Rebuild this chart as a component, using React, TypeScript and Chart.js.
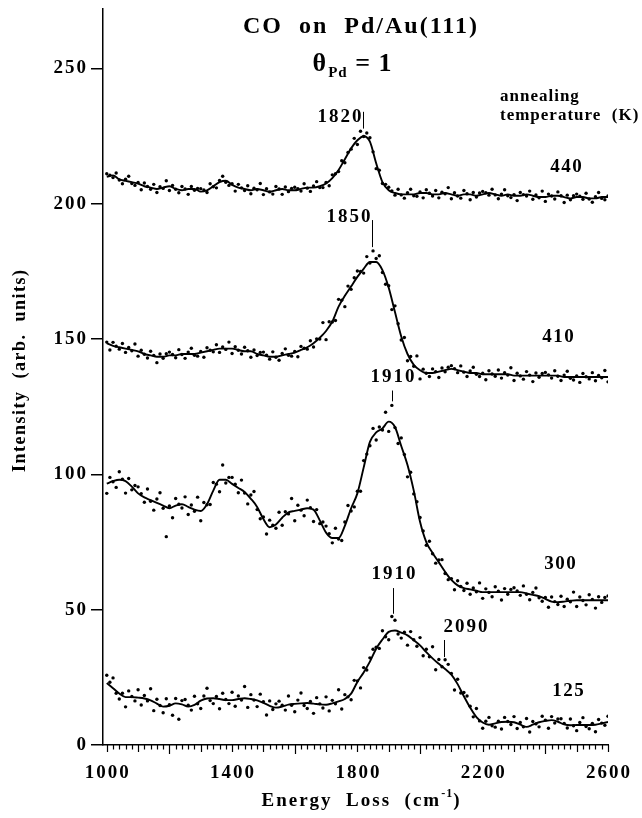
import React, { useEffect, useRef } from 'react';
import { Chart, registerables } from 'chart.js';

Chart.register(...registerables);

// ---------- data ----------
const X_LINE = [
  1000, 1020, 1040, 1060, 1080, 1100, 1120, 1140, 1160, 1180,
  1200, 1220, 1240, 1260, 1280, 1300, 1320, 1340, 1360, 1380,
  1400, 1420, 1440, 1460, 1480, 1500, 1520, 1540, 1560, 1580,
  1600, 1620, 1640, 1660, 1680, 1700, 1720, 1740, 1760, 1780,
  1800, 1820, 1840, 1860, 1880, 1900, 1920, 1940, 1960, 1980,
  2000, 2020, 2040, 2060, 2080, 2100, 2120, 2140, 2160, 2180,
  2200, 2220, 2240, 2260, 2280, 2300, 2320, 2340, 2360, 2380,
  2400, 2420, 2440, 2460, 2480, 2500, 2520, 2540, 2560, 2580,
  2600,
];

const LINE_440 = [
  210, 210.5, 209, 208.5, 208, 207.5, 206.5, 206, 205.5, 206,
  206.5, 205.5, 205, 205.5, 205.5, 204.5, 205, 206.5, 208, 208.5,
  207, 206, 205.5, 205, 205.5, 205, 204.5, 205, 205.5, 205,
  205, 205.5, 206, 206, 206.5, 207.5, 209.5, 212.5, 216.5, 220.5,
  223.5, 225, 223, 215, 208, 205, 204, 203.5, 203.5, 203.5,
  204, 204, 203.5, 203.5, 204, 203.5, 203, 203.5, 203.5, 203,
  203.5, 204, 203.5, 203, 203.5, 203, 203, 203.5, 203, 202.5,
  202.5, 203, 203, 202.5, 202, 202.5, 202.5, 202, 202, 202.5,
  202.5,
];

const LINE_410 = [
  148.5, 147.5, 147, 146.5, 146, 145.5, 144.5, 144, 143.5, 143.5,
  144, 144, 144.5, 144.5, 144.5, 145, 145.5, 146, 146.5, 146.5,
  146.5, 146, 145.5, 145.5, 144.5, 144, 143.5, 143.5, 144, 144.5,
  145, 146, 147, 148.5, 150.5, 153, 156.5, 162, 166, 169.5,
  173, 176, 178.5, 178.5, 175.5, 169, 160, 151, 144.5, 140.5,
  138.5, 137.5, 137.5, 138, 138.5, 139, 138.5, 138, 137.5, 137.5,
  137, 137, 137, 137, 137, 136.5, 136.5, 136.5, 136.5, 136.5,
  136.5, 136.5, 136.5, 136, 136, 136, 136, 136, 136, 136,
  136,
];

const LINE_300 = [
  96.6, 97.5, 98, 97.5, 95.5, 93, 91.5, 90.5, 89.5, 88.5,
  87.5, 88.5, 89, 88, 87, 86.5, 89, 94, 98, 98,
  96.5, 95, 93.5, 91, 88, 83.5, 80.5, 81.5, 84, 86,
  86.5, 87, 87.5, 87, 83, 78.5, 76.5, 76.5, 81, 87.5,
  93, 102.5, 112, 115.5, 117, 119.5, 117.5, 110.5, 103.5, 94,
  82.5, 75, 71, 67.5, 64, 61, 59, 58, 57.5, 57,
  56.5, 56.5, 56.5, 56.5, 56.5, 56.5, 56.5, 56, 55.5, 55,
  54, 53, 52.8, 53, 53.3, 53.5, 53.5, 53.5, 53.5, 53.5,
  53.5,
];

const LINE_125 = [
  22.9, 21, 19, 17.7, 17.7, 17.5, 17.2, 16.5, 15.3, 14.2,
  14.5, 15.4, 15, 14.2, 14.8, 16.4, 17.2, 17.3, 17, 16.6,
  16.6, 17, 17.3, 17, 16.5, 15.6, 14.5, 13.8, 14.2, 14.9,
  15.2, 15.4, 15.5, 15.3, 15, 14.9, 15.4, 16.1, 17, 19,
  23.3, 26.8, 30.8, 35.6, 39, 41.8, 42.3, 41.5, 40.5, 38.7,
  36.8, 34.3, 32, 30, 28.1, 26, 22.5, 18, 13.8, 10.3,
  8.3, 7.5, 8, 8.5, 8.6, 8.4, 7.5, 6.7, 7.5, 8.4,
  8.9, 9.2, 8.6, 7.6, 7.3, 7.4, 7.4, 7.4, 7.5, 8,
  8.5,
];

const X_DOTS = [
  1000, 1010, 1020, 1030, 1040, 1050, 1060, 1070, 1080, 1090,
  1100, 1110, 1120, 1130, 1140, 1150, 1160, 1170, 1180, 1190,
  1200, 1210, 1220, 1230, 1240, 1250, 1260, 1270, 1280, 1290,
  1300, 1310, 1320, 1330, 1340, 1350, 1360, 1370, 1380, 1390,
  1400, 1410, 1420, 1430, 1440, 1450, 1460, 1470, 1480, 1490,
  1500, 1510, 1520, 1530, 1540, 1550, 1560, 1570, 1580, 1590,
  1600, 1610, 1620, 1630, 1640, 1650, 1660, 1670, 1680, 1690,
  1700, 1710, 1720, 1730, 1740, 1750, 1760, 1770, 1780, 1790,
  1800, 1810, 1820, 1830, 1840, 1850, 1860, 1870, 1880, 1890,
  1900, 1910, 1920, 1930, 1940, 1950, 1960, 1970, 1980, 1990,
  2000, 2010, 2020, 2030, 2040, 2050, 2060, 2070, 2080, 2090,
  2100, 2110, 2120, 2130, 2140, 2150, 2160, 2170, 2180, 2190,
  2200, 2210, 2220, 2230, 2240, 2250, 2260, 2270, 2280, 2290,
  2300, 2310, 2320, 2330, 2340, 2350, 2360, 2370, 2380, 2390,
  2400, 2410, 2420, 2430, 2440, 2450, 2460, 2470, 2480, 2490,
  2500, 2510, 2520, 2530, 2540, 2550, 2560, 2570, 2580, 2590,
  2600,
];

const DOTS_440 = [
  211.1, 210.6, 209.7, 211.4, 208.8, 207.4, 209.1, 210.2, 207.5, 206.8,
  207.9, 205.2, 207.7, 206.4, 205.4, 207.2, 204.2, 206.3, 205.7, 208.5,
  204.9, 206.8, 205.4, 204.1, 206.4, 205.5, 203.5, 206.4, 205, 205.7,
  205.6, 205.1, 204.2, 207.4, 206.3, 205.9, 208.6, 210.2, 208, 206.8,
  207.4, 204.7, 207.2, 205.9, 204.9, 206.7, 203.7, 205.8, 205.2, 207.5,
  203.4, 205.6, 204.4, 203.6, 206.4, 205.5, 203.5, 206.2, 204.5, 205.7,
  206.1, 205.6, 204.7, 207.4, 205.8, 204.6, 206.6, 208.2, 206, 206,
  207.9, 206.7, 210.7, 211.1, 211.9, 215.9, 215.2, 219, 220.2, 224.2,
  221.9, 226.8, 224.9, 226.2, 224.4, 219.2, 213, 212.4, 207.5, 207.2,
  206.1, 204.8, 203.2, 205.4, 203.3, 202.1, 204.1, 205.4, 203, 202.8,
  204.4, 202.2, 205.2, 203.9, 202.9, 204.9, 202.2, 204.3, 203.7, 206,
  201.9, 204.1, 202.9, 202.1, 204.9, 203.7, 201.5, 204.2, 202.5, 204,
  204.6, 204.1, 203.2, 205.4, 203.3, 201.9, 203.6, 205.2, 203, 202.3,
  203.4, 201.2, 204.2, 203.4, 202.9, 204.7, 201.7, 203.3, 202.2, 204.7,
  200.9, 203.6, 202.9, 201.8, 204.4, 203, 200.5, 203.2, 201.5, 203,
  203.6, 202.8, 201.7, 203.9, 201.8, 200.6, 202.6, 204.2, 202, 201.5,
  202.9,
];

const DOTS_410 = [
  148.9, 146, 148.8, 147.4, 146.3, 148.4, 145.1, 146.9, 145.7, 148.2,
  143.7, 145.9, 144.4, 143, 145.5, 144, 141.3, 144.5, 142.9, 144.6,
  145.2, 144.3, 143.1, 146.1, 144.3, 142.9, 145.2, 146.6, 144, 143.7,
  145.4, 143.3, 146.8, 145.9, 145.3, 147.9, 145.1, 147.1, 146.2, 148.9,
  144.7, 147.2, 145.9, 144.5, 147, 145.7, 143.3, 146, 143.9, 145.1,
  145.2, 144.1, 142.6, 145.3, 143.3, 142.2, 144.7, 146.4, 144, 143.7,
  145.4, 143.5, 147.3, 146.6, 146.3, 149.4, 147.1, 150.1, 150, 156.1,
  149.8, 156.4, 156.3, 156.9, 164.7, 164.4, 162, 169.6, 168.4, 172.7,
  175.2, 175, 174.4, 180.5, 178.1, 182.6, 179.8, 180.8, 174.6, 170.3,
  169.7, 160.9, 162.3, 155.7, 149.7, 150.6, 142, 143.6, 140, 143.8,
  135.3, 138.9, 137.4, 136.2, 139, 138, 135.8, 139.3, 137.9, 139.6,
  140.2, 139.1, 137.6, 140.1, 137.8, 136.2, 138.2, 139.6, 137, 136.2,
  137.4, 135, 138.3, 137.1, 136.3, 138.6, 135.6, 137.6, 136.7, 139.4,
  134.7, 137.4, 136.4, 135.2, 138, 136.7, 134.3, 137.5, 135.9, 137.3,
  137.7, 136.8, 135.6, 138.3, 136.3, 134.7, 136.7, 138.1, 135.5, 134.9,
  136.4, 134, 137.3, 136.1, 135.3, 137.6, 134.6, 136.6, 135.7, 138.4,
  134.2,
];

const DOTS_300 = [
  93, 98.9, 97.3, 95.2, 101, 98.2, 93.1, 98.5, 94.3, 95.9,
  95.4, 92.9, 89.7, 94.6, 90.1, 86.8, 90.9, 93.2, 87.5, 77,
  88.3, 84, 91.1, 89, 87.6, 91.7, 85.2, 88.7, 86.4, 91.6,
  82.9, 89.6, 88.8, 88.9, 97, 96.4, 93.6, 103.5, 96.8, 98.9,
  98.9, 96.4, 93.2, 97.9, 93.1, 89.1, 92.4, 93.7, 87, 83.6,
  84.3, 78, 83.1, 81.2, 80.1, 86, 81.2, 86.2, 85.4, 91.1,
  82.9, 88.6, 86.8, 84.7, 90.5, 87.7, 82.6, 87, 81.8, 82.4,
  80.9, 78.1, 74.7, 80.1, 76.1, 75.6, 82.4, 88.5, 86.5, 88,
  93.8, 93.8, 105.1, 107.5, 110.6, 117, 112.7, 117.5, 116.4, 123,
  115.9, 125.5, 117.3, 111.4, 113.5, 107.4, 99.1, 100.8, 92.8, 89.9,
  84.1, 79.1, 73.8, 75.3, 70.7, 67.2, 68.4, 68.5, 63.4, 61.1,
  61.5, 57.4, 60.7, 58.6, 57.1, 59.8, 55.7, 58, 56.6, 59.9,
  54.2, 57.7, 56.4, 54.8, 58.5, 56.8, 53.6, 57.8, 55.7, 57.5,
  58.1, 56.9, 55.3, 58.8, 55.7, 53.7, 56.4, 58, 54.4, 53.1,
  54.5, 50.9, 54.7, 53, 51.9, 55, 51.2, 53.9, 52.9, 56.5,
  51.2, 54.7, 53.4, 51.8, 55.5, 53.8, 50.6, 54.8, 52.7, 54.5,
  55.1,
];

const DOTS_125 = [
  25.8, 23.2, 24.8, 19.1, 17, 19.1, 14.1, 20, 17.9, 16.3,
  20.4, 14.8, 18.3, 16.3, 20.8, 12.7, 16.9, 14.6, 11.9, 17.1,
  14.9, 11, 17.2, 9.5, 16.4, 16.8, 14.7, 12.9, 18, 15.2,
  13.5, 18.1, 21, 16.4, 15.3, 17.9, 13.4, 19.1, 16.8, 15.3,
  19.5, 14.3, 18.1, 16.6, 21.6, 13.9, 18.6, 16.6, 14.2, 18.8,
  16, 11.1, 16.3, 13.1, 15.2, 16.2, 14.7, 12.9, 18.1, 14.7,
  12.3, 16.6, 19.2, 14.6, 13.5, 16.1, 11.7, 17.5, 15.2, 13.7,
  17.8, 12.6, 16.5, 15.2, 20.4, 13.3, 18.6, 17.8, 16.7, 23.9,
  23.7, 21.1, 28.6, 27.7, 32.2, 35.4, 36.1, 35.7, 42.2, 40,
  38.9, 47.5, 46.1, 41, 39.5, 41.7, 36.9, 41.9, 38.9, 36.5,
  39.7, 33, 35.4, 32.6, 36.3, 27.8, 31.6, 28.9, 31.5, 29.8,
  26.4, 20.3, 24.3, 19.2, 19.4, 18.1, 14.3, 10.4, 13.5, 8.9,
  6.2, 8.8, 10.2, 7.1, 6.6, 8.8, 5.9, 10.2, 8.7, 7.6,
  10.5, 6.1, 8.3, 6.7, 9.8, 4.8, 8.7, 7.8, 6.7, 10.6,
  9.2, 6.2, 10.5, 8.1, 9.6, 9.7, 8, 6.3, 9.6, 7.1,
  5.3, 8.3, 10.1, 6.8, 6, 8, 4.9, 9.4, 8.1, 7.3,
  10.6,
];

const X_TICKS = [1000, 1400, 1800, 2200, 2600];
const Y_TICKS = [0, 50, 100, 150, 200, 250];

const CURVE_LABELS = ['440', '410', '300', '125'];
const CURVE_LABEL_X = [2466, 2440, 2447, 2472];
const CURVE_LABEL_Y = [213.5, 150.6, 67, 20];

const PEAK_TEXT = ['1820', '1850', '1910', '1910', '2090'];
const PEAK_X = [1818, 1848, 1910, 1915, 2075];
const PEAK_TEXT_Y = [232, 195, 136, 63, 43.6];
const PEAK_LINE_TOP = [234, 194, 131, 58, 38.8];
const PEAK_LINE_BOTTOM = [227.8, 184, 127, 48.5, 32.5];
const PEAK_ALIGN = ['right', 'right', 'center', 'center', 'left'];

// ---------- drawing helpers ----------
const FONT = '"Liberation Serif", "Times New Roman", serif';

function txt(
  ctx: CanvasRenderingContext2D,
  s: string,
  x: number,
  y: number,
  size: number,
  align: CanvasTextAlign,
  spacing: number,
  baseline: CanvasTextBaseline = 'middle'
) {
  ctx.save();
  ctx.font = `bold ${size}px ${FONT}`;
  (ctx as any).letterSpacing = `${spacing}px`;
  ctx.textAlign = align;
  ctx.textBaseline = baseline;
  ctx.fillStyle = '#000';
  let dx = 0;
  if (align === 'right') dx = spacing;
  else if (align === 'center') dx = spacing / 2;
  ctx.fillText(s, x + dx, y);
  ctx.restore();
}

function measure(ctx: CanvasRenderingContext2D, s: string, size: number, spacing: number) {
  ctx.save();
  ctx.font = `bold ${size}px ${FONT}`;
  (ctx as any).letterSpacing = `${spacing}px`;
  const w = ctx.measureText(s).width;
  ctx.restore();
  return w;
}

const annotations = {
  id: 'annotations',
  beforeDraw(chart: any) {
    const ctx = chart.ctx as CanvasRenderingContext2D;
    ctx.save();
    ctx.fillStyle = '#fff';
    ctx.fillRect(0, 0, chart.width, chart.height);
    ctx.restore();
  },
  afterDraw(chart: any) {
    const ctx = chart.ctx as CanvasRenderingContext2D;
    const xs = chart.scales.x;
    const ys = chart.scales.y;
    const area = chart.chartArea;

    // x minor / major ticks
    ctx.save();
    ctx.strokeStyle = '#000';
    ctx.lineWidth = 1.2;
    for (let v = X_TICKS[0]; v <= X_TICKS[X_TICKS.length - 1]; v += 20) {
      const px = Math.round(xs.getPixelForValue(v)) + 0.5;
      const len = v % 400 === 0 ? 9 : v % 100 === 0 ? 7 : 4.5;
      ctx.beginPath();
      ctx.moveTo(px, area.bottom);
      ctx.lineTo(px, area.bottom + len);
      ctx.stroke();
    }
    ctx.restore();

    // tick labels
    X_TICKS.forEach((v) => txt(ctx, String(v), xs.getPixelForValue(v), 773, 19, 'center', 2));
    Y_TICKS.forEach((v) => txt(ctx, String(v), 86, ys.getPixelForValue(v), 19, 'right', 2));

    // axis titles
    {
      const a = 'Energy  Loss  (cm';
      const sup = '-1';
      const b = ')';
      const wa = measure(ctx, a, 19, 2);
      const ws = measure(ctx, sup, 12, 1);
      const wb = measure(ctx, b, 19, 2);
      const cx = (area.left + area.right) / 2 + 6;
      const start = cx - (wa + ws + wb) / 2;
      txt(ctx, a, start, 801, 19, 'left', 2);
      txt(ctx, sup, start + wa, 794, 12, 'left', 1);
      txt(ctx, b, start + wa + ws, 801, 19, 'left', 2);
    }
    ctx.save();
    ctx.translate(20, 472);
    ctx.rotate(-Math.PI / 2);
    txt(ctx, 'Intensity  (arb.  units)', 0, 0, 18, 'left', 1.5);
    ctx.restore();

    // title
    txt(ctx, 'CO  on  Pd/Au(111)', 360, 27, 24, 'center', 2);
    {
      const w1 = measure(ctx, '\u03B8', 26, 1);
      const w2 = measure(ctx, 'Pd', 15, 1);
      const w3 = measure(ctx, ' = 1', 26, 1);
      const start = 352 - (w1 + w2 + w3) / 2;
      txt(ctx, '\u03B8', start, 71, 26, 'left', 1, 'alphabetic');
      txt(ctx, 'Pd', start + w1 + 1, 77, 15, 'left', 1, 'alphabetic');
      txt(ctx, ' = 1', start + w1 + w2 + 1, 71, 26, 'left', 1, 'alphabetic');
    }

    // annealing temperature note
    txt(ctx, 'annealing', 500, 97, 17, 'left', 1);
    txt(ctx, 'temperature  (K)', 500, 116, 17, 'left', 1);

    // curve labels
    CURVE_LABELS.forEach((s, i) =>
      txt(ctx, s, xs.getPixelForValue(CURVE_LABEL_X[i]), ys.getPixelForValue(CURVE_LABEL_Y[i]), 19, 'center', 1.5)
    );

    // peak markers
    PEAK_TEXT.forEach((s, i) => {
      const px = Math.round(xs.getPixelForValue(PEAK_X[i])) + 0.5;
      ctx.save();
      ctx.strokeStyle = '#000';
      ctx.lineWidth = 1;
      ctx.beginPath();
      ctx.moveTo(px, ys.getPixelForValue(PEAK_LINE_TOP[i]));
      ctx.lineTo(px, ys.getPixelForValue(PEAK_LINE_BOTTOM[i]));
      ctx.stroke();
      ctx.restore();
      const align = PEAK_ALIGN[i] as CanvasTextAlign;
      const tx = align === 'right' ? px - 2 : align === 'left' ? px - 1 : px;
      txt(ctx, s, tx, ys.getPixelForValue(PEAK_TEXT_Y[i]), 19, align, 2);
    });
  },
};

const SERIES_LINES = [LINE_440, LINE_410, LINE_300, LINE_125];
const SERIES_DOTS = [DOTS_440, DOTS_410, DOTS_300, DOTS_125];

export default function App() {
  const ref = useRef<HTMLCanvasElement>(null);

  useEffect(() => {
    if (!ref.current) return;
    const lineSets = SERIES_LINES.map((arr) => ({
      type: 'line' as const,
      data: X_LINE.map((x, i) => ({ x, y: arr[i] })),
      borderColor: '#000',
      borderWidth: 1.9,
      pointRadius: 0,
      tension: 0.4,
      cubicInterpolationMode: 'monotone' as const,
      fill: false,
    }));
    const dotSets = SERIES_DOTS.map((arr) => ({
      type: 'scatter' as const,
      data: X_DOTS.map((x, i) => ({ x, y: arr[i] })),
      pointRadius: 1.7,
      pointBackgroundColor: '#000',
      pointBorderWidth: 0,
      showLine: false,
    }));

    const chart = new Chart(ref.current, {
      type: 'scatter',
      data: { datasets: [...dotSets, ...lineSets] as any },
      options: {
        responsive: false,
        animation: false,
        devicePixelRatio: 1,
        events: [],
        layout: { padding: { top: 9, right: 34, left: 0, bottom: 0 } },
        plugins: { legend: { display: false }, tooltip: { enabled: false } },
        scales: {
          x: {
            type: 'linear',
            min: 988,
            max: 2600,
            afterBuildTicks: (s: any) => {
              s.ticks = X_TICKS.map((v) => ({ value: v }));
            },
            afterFit: (s: any) => {
              s.height = 73;
            },
            grid: { display: false },
            border: { display: true, color: '#000', width: 1.5 },
            ticks: { display: false },
          },
          y: {
            type: 'linear',
            min: 0,
            max: 272,
            afterBuildTicks: (s: any) => {
              s.ticks = Y_TICKS.map((v) => ({ value: v }));
            },
            afterFit: (s: any) => {
              s.width = 103;
            },
            grid: {
              display: true,
              drawOnChartArea: false,
              drawTicks: true,
              tickLength: 12,
              color: '#000',
              lineWidth: 1.5,
            },
            border: { display: true, color: '#000', width: 1.5 },
            ticks: { display: false },
          },
        },
      } as any,
      plugins: [annotations],
    });
    return () => chart.destroy();
  }, []);

  return (
    <div style={{ position: 'fixed', left: 0, top: 0, width: 642, height: 818, background: '#fff' }}>
      <canvas ref={ref} width={642} height={818} style={{ display: 'block', width: 642, height: 818 }} />
    </div>
  );
}
